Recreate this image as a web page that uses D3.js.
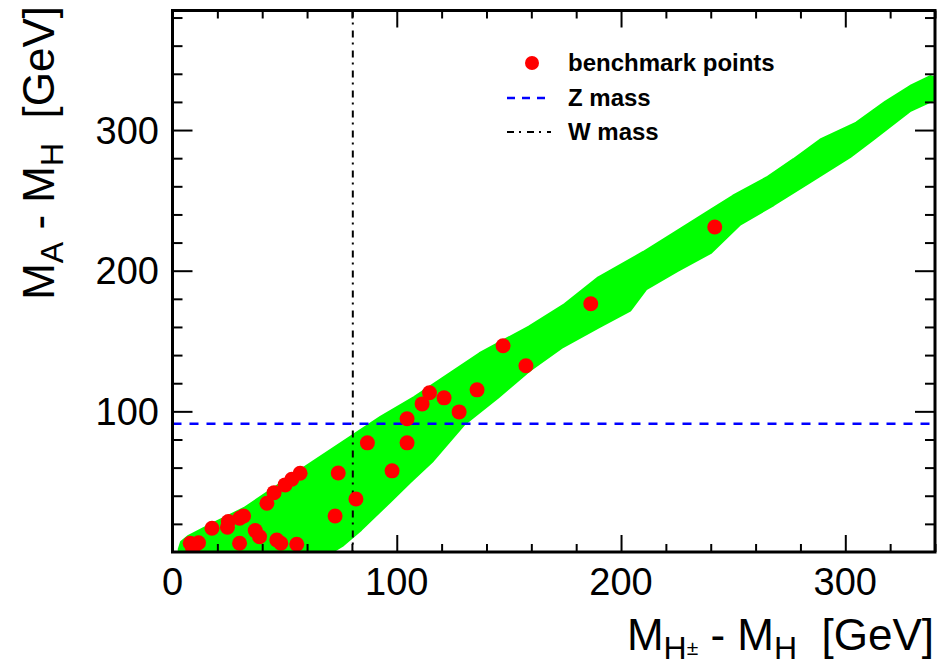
<!DOCTYPE html>
<html><head><meta charset="utf-8">
<script src="https://cdn.jsdelivr.net/npm/d3@7"></script>
<style>body{margin:0;background:#fff}svg{display:block}</style>
</head><body>
<script>
// ---- data ----
const xDomain = [0, 340];
const yDomain = [0, 385];
const xMajorTicks = [0, 100, 200, 300];
const yMajorTicks = [100, 200, 300];
const zMass = 91.19;
const wMass = 80.4;
// allowed region (green scan) boundary
const regionUpper = [[3,2],[4,7],[7,11],[18,20],[32,31],[45,45],[57,58],[76,78],[93,96],[108,110],[122,125],[137,141],[159,160],[175,176],[190,195],[210,213],[226,229],[240,243],[250,253],[265,266],[277,279],[289,293],[305,305],[318,320],[329,331],[338,338],[340,337]];
const regionLower = [[340,322],[329,314],[312,293],[302,281],[283,262],[268,247],[253,233],[240,213],[225,200],[211,187],[204,172],[190,160],[174,146],[159,129],[145,110],[130,91],[116,65],[106,50],[97,36],[84,16],[76,5],[72,1],[3,1]];
// benchmark points
const benchX = [241.8,186.5,147.4,157.6,135.8,114.6,121.1,111.3,127.8,104.6,86.9,104.6,97.9,73.9,81.8,72.5,56.9,53.2,50.2,45.3,42.1,31.7,29.9,24.9,24.5,17.6,36.9,38.8,29.9,46.5,48.3,55.4,7.9,11.6,9.1];
const benchY = [231.1,176.5,146.6,132.4,115.3,113.2,109.6,105.3,99.6,94.7,77.6,77.6,57.7,56.2,37.7,25.6,56,51.7,47.7,42.2,34.7,25.6,24,21.6,17.6,16.9,15.2,10.9,6.2,8.5,6.2,5.5,6.2,6.6,1.9];
const legendLabels = ["benchmark points", "Z mass", "W mass"];

// ---- layout ----
const W = 941, H = 668;
const L = 172.5, R = 935, T = 10.5, B = 552;
const font = "'Liberation Sans', Arial, Helvetica, sans-serif";

const svg = d3.select("body").append("svg").attr("width", W).attr("height", H);
const x = d3.scaleLinear().domain(xDomain).range([L, R]);
const y = d3.scaleLinear().domain(yDomain).range([B, T]);

svg.append("clipPath").attr("id","c").append("rect")
  .attr("x", L).attr("y", T).attr("width", R-L).attr("height", B-T);
const g = svg.append("g").attr("clip-path","url(#c)");

// green region
const poly = regionUpper.concat(regionLower);
g.append("path")
  .attr("d", d3.line().x(d=>x(d[0])).y(d=>y(d[1]))(poly) + "Z")
  .attr("fill", "#00ff00").attr("stroke", "#00ff00").attr("stroke-width", 3)
  .attr("stroke-linejoin", "round");

// W mass line
g.append("line").attr("x1", x(wMass)).attr("x2", x(wMass)).attr("y1", T).attr("y2", B)
  .attr("stroke", "#000").attr("stroke-width", 2).attr("stroke-dasharray", "7,5,2,6");
// Z mass line
g.append("line").attr("x1", L).attr("x2", R).attr("y1", y(zMass)).attr("y2", y(zMass))
  .attr("stroke", "#0000ff").attr("stroke-width", 2.5).attr("stroke-dasharray", "9,8");

// benchmark points
g.selectAll("circle.b").data(benchX.map((v,i)=>[v, benchY[i]])).join("circle")
  .attr("cx", d=>x(d[0])).attr("cy", d=>y(d[1])).attr("r", 7.5).attr("fill", "#ff0000");

// axes: ticks inside on all four sides
const xMinor = d3.range(20, 341, 20).filter(v=>!xMajorTicks.includes(v));
const yMinor = d3.range(20, 385, 20).filter(v=>!yMajorTicks.includes(v));
function styleTicks(sel, attr, fn){
  sel.selectAll(".domain").remove();
  sel.selectAll(".tick line").attr(attr, fn).attr("stroke","#000").attr("stroke-width",2);
}
styleTicks(svg.append("g").attr("transform", `translate(0,${B})`)
  .call(d3.axisTop(x).tickValues(xMajorTicks.concat(xMinor)).tickSize(0).tickFormat("")),
  "y2", d=>xMajorTicks.includes(d) ? -17 : -8);
styleTicks(svg.append("g").attr("transform", `translate(0,${T})`)
  .call(d3.axisBottom(x).tickValues(xMajorTicks.concat(xMinor)).tickSize(0).tickFormat("")),
  "y2", d=>xMajorTicks.includes(d) ? 17 : 8);
styleTicks(svg.append("g").attr("transform", `translate(${L},0)`)
  .call(d3.axisRight(y).tickValues(yMajorTicks.concat(yMinor)).tickSize(0).tickFormat("")),
  "x2", d=>yMajorTicks.includes(d) ? 20 : 10);
styleTicks(svg.append("g").attr("transform", `translate(${R},0)`)
  .call(d3.axisLeft(y).tickValues(yMajorTicks.concat(yMinor)).tickSize(0).tickFormat("")),
  "x2", d=>yMajorTicks.includes(d) ? -20 : -10);

// frame
svg.append("rect").attr("x", L).attr("y", T).attr("width", R-L).attr("height", B-T)
  .attr("fill","none").attr("stroke","#000").attr("stroke-width",3);

// tick labels
svg.append("g").selectAll("text").data(xMajorTicks).join("text")
  .attr("x", d=>x(d)).attr("y", 595).attr("text-anchor","middle")
  .attr("font-family", font).attr("font-size", 38).text(d=>d);
svg.append("g").selectAll("text").data(yMajorTicks).join("text")
  .attr("x", 159).attr("y", d=>y(d)+13.5).attr("text-anchor","end")
  .attr("font-family", font).attr("font-size", 38).text(d=>d);

// axis titles
const xt = svg.append("text").attr("x", 934).attr("y", 650).attr("text-anchor","end")
  .attr("font-family", font).attr("font-size", 44);
xt.append("tspan").text("M");
xt.append("tspan").attr("dy", 9).attr("font-size", 32).text("H");
xt.append("tspan").attr("dy", -4).attr("font-size", 21).text("±");
xt.append("tspan").attr("dy", -5).text(" - M");
xt.append("tspan").attr("dy", 9).attr("font-size", 32).text("H");
xt.append("tspan").attr("dy", -9).text("\u00a0 [GeV]");

const yt = svg.append("text").attr("transform", "translate(54,6) rotate(-90)")
  .attr("text-anchor","end").attr("font-family", font).attr("font-size", 44);
yt.append("tspan").text("M");
yt.append("tspan").attr("dy", 9).attr("font-size", 32).text("A");
yt.append("tspan").attr("dy", -9).text(" - M");
yt.append("tspan").attr("dy", 9).attr("font-size", 32).text("H");
yt.append("tspan").attr("dy", -9).text("\u00a0 [GeV]");

// legend
const lg = svg.append("g");
lg.append("circle").attr("cx", 532).attr("cy", 63).attr("r", 7).attr("fill", "#ff0000");
lg.append("line").attr("x1", 507).attr("x2", 551).attr("y1", 98).attr("y2", 98)
  .attr("stroke", "#0000ff").attr("stroke-width", 2.5).attr("stroke-dasharray", "8,7");
lg.append("line").attr("x1", 507).attr("x2", 551).attr("y1", 132).attr("y2", 132)
  .attr("stroke", "#000").attr("stroke-width", 2).attr("stroke-dasharray", "7,5,2,6");
lg.selectAll("text").data(legendLabels).join("text")
  .attr("x", 568).attr("y", (d,i)=>[71,106,140][i])
  .attr("font-family", font).attr("font-weight","bold").attr("font-size", 24).text(d=>d);
</script>
</body></html>
